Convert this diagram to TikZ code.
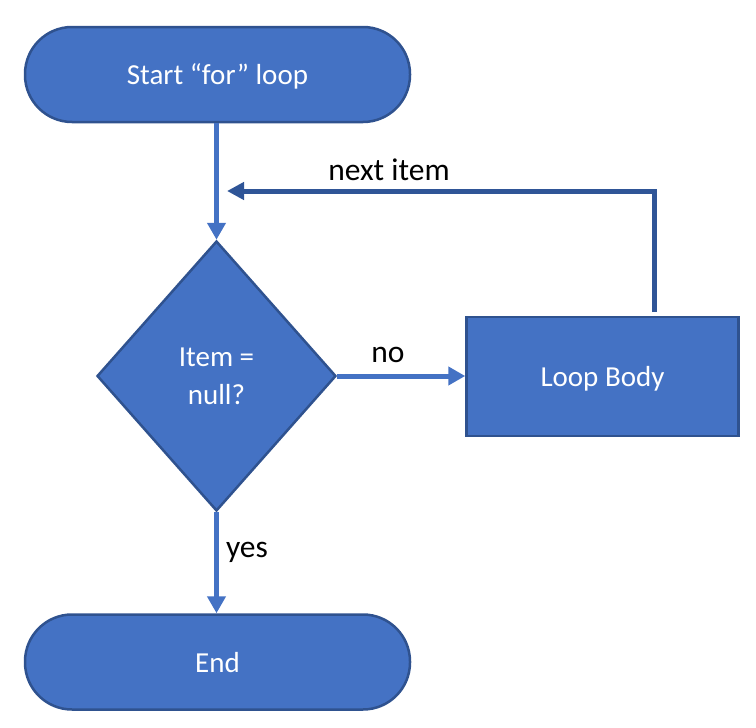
\documentclass[tikz,border=0pt]{standalone}
\usepackage{fontspec}
\setmainfont{Carlito}
\usetikzlibrary{arrows.meta,shapes.geometric}
\definecolor{boxfill}{HTML}{4472C4}
\definecolor{boxline}{HTML}{2F528F}
\definecolor{loopline}{HTML}{2F5597}
\tikzset{
  shapebase/.style={fill=boxfill, draw=boxline, line width=2.5pt, text=white, font=\fontsize{29}{38}\selectfont, inner sep=0pt},
  terminal/.style={shapebase, rectangle, rounded corners=47pt, minimum width=385pt, minimum height=95pt, text height=20pt, text depth=0pt},
  decision/.style={shapebase, diamond, minimum width=239pt, minimum height=270pt, align=center},
  process/.style={shapebase, rectangle, minimum width=272pt, minimum height=119pt, text height=20pt, text depth=0pt},
  flow/.style={draw=boxfill, line width=5pt, -{Triangle[length=17pt,width=18pt]}},
  backflow/.style={draw=loopline, line width=5pt, -{Triangle[length=17pt,width=17pt]}},
  lbl/.style={font=\fontsize{31.5}{36}\selectfont, text=black, inner sep=0pt}
}
\begin{document}
\begin{tikzpicture}[x=1pt,y=-1pt]
\useasboundingbox (0,0) rectangle (756,728);
\node[terminal] (start) at (217.5,74.5) {Start “for” loop};
\node[decision] (dec) at (216.5,376) {Item =\\null?};
\node[process] (body) at (602.5,376.5) {Loop Body};
\node[terminal] (end) at (217.5,662) {End};
\coordinate (loopfrom) at (654,312);
\coordinate (loopto) at (227,191);
\draw[flow] (start.south -| dec.north) -- (dec.north);
\draw[flow] (dec.east) -- (dec.east -| body.west);
\draw[flow] (dec.south) -- (end.north -| dec.south);
\draw[backflow] (loopfrom) |- (loopto);
\node[lbl] (nolbl) at (388,355) {no};
\node[lbl] (yeslbl) at (247,552) {yes};
\node[lbl] (nextlbl) at (389,170) {next item};
\end{tikzpicture}
\end{document}
